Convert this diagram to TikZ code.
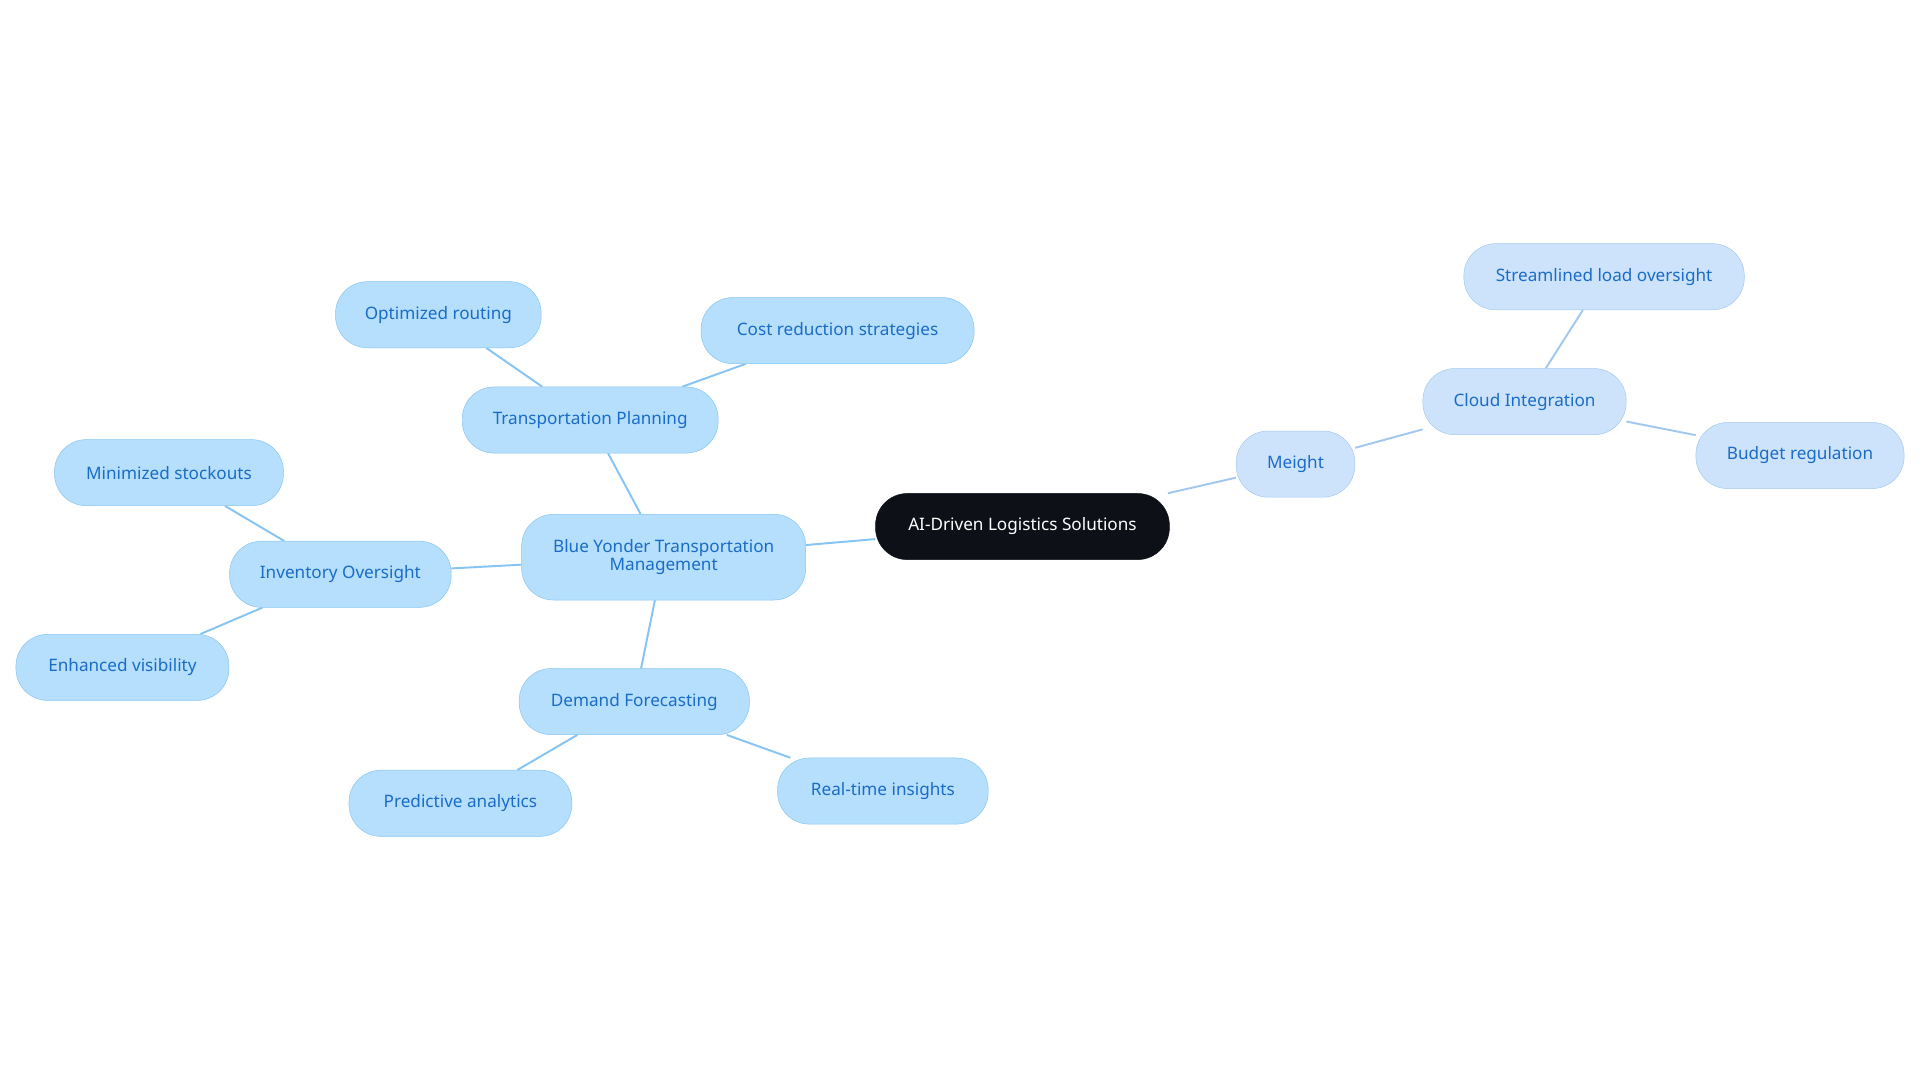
\documentclass[tikz,border=0pt]{standalone}
\usepackage{fontspec}
\setmainfont{Noto Sans}
\usetikzlibrary{positioning, backgrounds}
\definecolor{bluefill}{HTML}{B5DFFC}
\definecolor{blueline}{HTML}{86C5F3}
\definecolor{bluetext}{HTML}{1A6CC8}
\definecolor{palefill}{HTML}{CDE3FB}
\definecolor{paleline}{HTML}{A3C8F0}
\definecolor{rootfill}{HTML}{0D1117}
\begin{document}
\begin{tikzpicture}[x=1pt, y=-1pt]
\tikzset{
    idea/.style={rectangle, rounded corners=26pt, draw=blueline, fill=bluefill, text=bluetext,
        minimum height=54pt, inner xsep=10pt, align=center, font=\fontsize{14}{15}\selectfont},
    paleidea/.style={idea, draw=paleline, fill=palefill},
    root/.style={idea, draw=rootfill, fill=rootfill, text=white},
    link/.style={-, line width=1.6pt, draw=blueline},
    palelink/.style={link, draw=paleline}
}
\useasboundingbox (0,0) rectangle (1568,884);

    \node (ai) [root, minimum width=240pt] at (835,430) {AI-Driven Logistics Solutions};

    % right branch
    \node (meight) [paleidea, minimum width=97pt] at (1058,379) {Meight};
    \node (cloud) [paleidea, minimum width=166pt] at (1245,328) {Cloud Integration};
    \node (load) [paleidea, minimum width=229pt] at (1310,226) {Streamlined load oversight};
    \node (budget) [paleidea, minimum width=170pt] at (1470,372) {Budget regulation};

    % left branch
    \node (yonder) [idea, minimum width=232pt, minimum height=70pt] at (542,455)
        {Blue Yonder Transportation\\Management};
    \node (plan) [idea, minimum width=209pt] at (482,343) {Transportation Planning};
    \node (route) [idea, minimum width=168pt] at (358,257) {Optimized routing};
    \node (cost) [idea, minimum width=223pt] at (684,270) {Cost reduction strategies};
    \node (inv) [idea, minimum width=181pt] at (278,469) {Inventory Oversight};
    \node (stock) [idea, minimum width=187pt] at (138,386) {Minimized stockouts};
    \node (vis) [idea, minimum width=174pt] at (100,545) {Enhanced visibility};
    \node (demand) [idea, minimum width=188pt] at (518,573) {Demand Forecasting};
    \node (pred) [idea, minimum width=182pt] at (376,656) {Predictive analytics};
    \node (real) [idea, minimum width=172pt] at (721,646) {Real-time insights};

\begin{scope}[on background layer]
\path[palelink] (ai) edge (meight) (meight) edge (cloud) (cloud) edge (load) (cloud) edge (budget);
\path[link] (ai) edge (yonder) (yonder) edge (plan) (plan) edge (route) (plan) edge (cost);
\path[link] (yonder) edge (inv) (inv) edge (stock) (inv) edge (vis);
\path[link] (yonder) edge (demand) (demand) edge (pred) (demand) edge (real);
\end{scope}
\end{tikzpicture}
\end{document}
